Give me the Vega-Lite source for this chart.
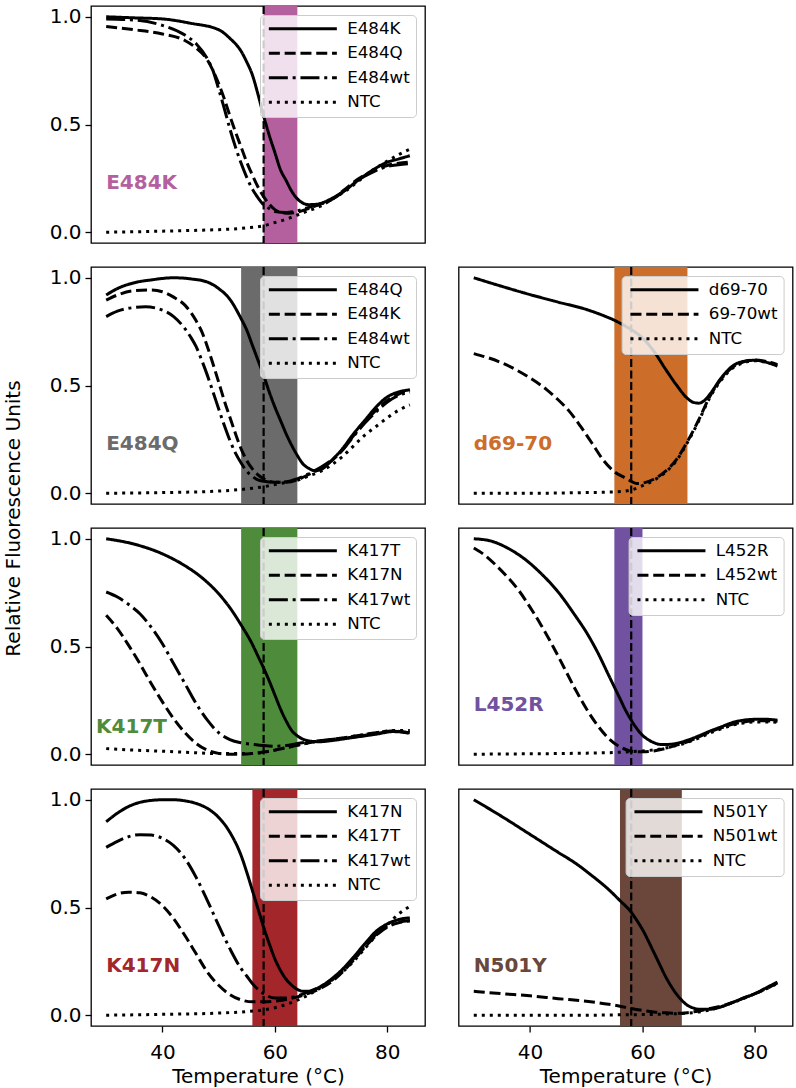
{
"$schema":"https://vega.github.io/schema/vega-lite/v6.json",
"padding":{"left":2,"top":4,"right":0,"bottom":4},
"datasets":{
"bands":[
{"p":"E484K","lo":58,"hi":64,"ref":58,"label":"E484K"},
{"p":"E484Q","lo":54,"hi":64,"ref":58,"label":"E484Q"},
{"p":"d69-70","lo":55,"hi":68,"ref":58,"label":"d69-70"},
{"p":"K417T","lo":54,"hi":64,"ref":58,"label":"K417T"},
{"p":"L452R","lo":55,"hi":60,"ref":58,"label":"L452R"},
{"p":"K417N","lo":56,"hi":64,"ref":58,"label":"K417N"},
{"p":"N501Y","lo":56,"hi":67,"ref":58,"label":"N501Y"}
],
"curves":[
{"p":"E484K","s":"E484K","t":30,"v":1.0},{"p":"E484K","s":"E484K","t":35,"v":0.995},{"p":"E484K","s":"E484K","t":40,"v":0.99},{"p":"E484K","s":"E484K","t":45,"v":0.97},{"p":"E484K","s":"E484K","t":50,"v":0.94},{"p":"E484K","s":"E484K","t":52,"v":0.9},{"p":"E484K","s":"E484K","t":54,"v":0.84},{"p":"E484K","s":"E484K","t":55,"v":0.79},{"p":"E484K","s":"E484K","t":56,"v":0.73},{"p":"E484K","s":"E484K","t":57,"v":0.64},{"p":"E484K","s":"E484K","t":58,"v":0.54},{"p":"E484K","s":"E484K","t":59,"v":0.45},{"p":"E484K","s":"E484K","t":60,"v":0.37},{"p":"E484K","s":"E484K","t":61,"v":0.29},{"p":"E484K","s":"E484K","t":62,"v":0.24},{"p":"E484K","s":"E484K","t":63,"v":0.19},{"p":"E484K","s":"E484K","t":64,"v":0.155},{"p":"E484K","s":"E484K","t":65,"v":0.135},{"p":"E484K","s":"E484K","t":66,"v":0.128},{"p":"E484K","s":"E484K","t":67.5,"v":0.13},{"p":"E484K","s":"E484K","t":70,"v":0.155},{"p":"E484K","s":"E484K","t":72.5,"v":0.195},{"p":"E484K","s":"E484K","t":75,"v":0.245},{"p":"E484K","s":"E484K","t":77.5,"v":0.29},{"p":"E484K","s":"E484K","t":80,"v":0.325},{"p":"E484K","s":"E484K","t":82,"v":0.34},{"p":"E484K","s":"E484K","t":84,"v":0.355},
{"p":"E484K","s":"E484Q","t":30,"v":0.955},{"p":"E484K","s":"E484Q","t":35,"v":0.94},{"p":"E484K","s":"E484Q","t":40,"v":0.92},{"p":"E484K","s":"E484Q","t":44,"v":0.89},{"p":"E484K","s":"E484Q","t":46,"v":0.855},{"p":"E484K","s":"E484Q","t":48,"v":0.8},{"p":"E484K","s":"E484Q","t":49,"v":0.75},{"p":"E484K","s":"E484Q","t":50,"v":0.69},{"p":"E484K","s":"E484Q","t":51,"v":0.62},{"p":"E484K","s":"E484Q","t":52,"v":0.54},{"p":"E484K","s":"E484Q","t":53,"v":0.465},{"p":"E484K","s":"E484Q","t":54,"v":0.395},{"p":"E484K","s":"E484Q","t":55,"v":0.325},{"p":"E484K","s":"E484Q","t":56,"v":0.265},{"p":"E484K","s":"E484Q","t":57,"v":0.21},{"p":"E484K","s":"E484Q","t":58,"v":0.165},{"p":"E484K","s":"E484Q","t":59,"v":0.13},{"p":"E484K","s":"E484Q","t":60,"v":0.105},{"p":"E484K","s":"E484Q","t":61,"v":0.093},{"p":"E484K","s":"E484Q","t":62.5,"v":0.088},{"p":"E484K","s":"E484Q","t":64,"v":0.093},{"p":"E484K","s":"E484Q","t":66,"v":0.11},{"p":"E484K","s":"E484Q","t":68,"v":0.13},{"p":"E484K","s":"E484Q","t":70,"v":0.15},{"p":"E484K","s":"E484Q","t":72.5,"v":0.2},{"p":"E484K","s":"E484Q","t":75,"v":0.25},{"p":"E484K","s":"E484Q","t":77.5,"v":0.285},{"p":"E484K","s":"E484Q","t":80,"v":0.31},{"p":"E484K","s":"E484Q","t":82,"v":0.32},{"p":"E484K","s":"E484Q","t":84,"v":0.325},
{"p":"E484K","s":"E484wt","t":30,"v":0.99},{"p":"E484K","s":"E484wt","t":35,"v":0.985},{"p":"E484K","s":"E484wt","t":40,"v":0.96},{"p":"E484K","s":"E484wt","t":44,"v":0.915},{"p":"E484K","s":"E484wt","t":46,"v":0.875},{"p":"E484K","s":"E484wt","t":48,"v":0.805},{"p":"E484K","s":"E484wt","t":49,"v":0.75},{"p":"E484K","s":"E484wt","t":50,"v":0.665},{"p":"E484K","s":"E484wt","t":51,"v":0.575},{"p":"E484K","s":"E484wt","t":52,"v":0.48},{"p":"E484K","s":"E484wt","t":53,"v":0.395},{"p":"E484K","s":"E484wt","t":54,"v":0.32},{"p":"E484K","s":"E484wt","t":55,"v":0.255},{"p":"E484K","s":"E484wt","t":56,"v":0.2},{"p":"E484K","s":"E484wt","t":57,"v":0.16},{"p":"E484K","s":"E484wt","t":58,"v":0.127},{"p":"E484K","s":"E484wt","t":59,"v":0.11},{"p":"E484K","s":"E484wt","t":60,"v":0.096},{"p":"E484K","s":"E484wt","t":62,"v":0.092},{"p":"E484K","s":"E484wt","t":64,"v":0.1},{"p":"E484K","s":"E484wt","t":66,"v":0.115},{"p":"E484K","s":"E484wt","t":68,"v":0.13},{"p":"E484K","s":"E484wt","t":70,"v":0.15},{"p":"E484K","s":"E484wt","t":72.5,"v":0.195},{"p":"E484K","s":"E484wt","t":75,"v":0.245},{"p":"E484K","s":"E484wt","t":77.5,"v":0.28},{"p":"E484K","s":"E484wt","t":80,"v":0.305},{"p":"E484K","s":"E484wt","t":82,"v":0.313},{"p":"E484K","s":"E484wt","t":84,"v":0.318},
{"p":"E484K","s":"NTC","t":30,"v":0.0},{"p":"E484K","s":"NTC","t":35,"v":0.002},{"p":"E484K","s":"NTC","t":40,"v":0.005},{"p":"E484K","s":"NTC","t":45,"v":0.008},{"p":"E484K","s":"NTC","t":50,"v":0.012},{"p":"E484K","s":"NTC","t":55,"v":0.02},{"p":"E484K","s":"NTC","t":58,"v":0.03},{"p":"E484K","s":"NTC","t":60,"v":0.045},{"p":"E484K","s":"NTC","t":62,"v":0.06},{"p":"E484K","s":"NTC","t":64,"v":0.08},{"p":"E484K","s":"NTC","t":66,"v":0.1},{"p":"E484K","s":"NTC","t":68,"v":0.12},{"p":"E484K","s":"NTC","t":70,"v":0.15},{"p":"E484K","s":"NTC","t":72.5,"v":0.19},{"p":"E484K","s":"NTC","t":75,"v":0.24},{"p":"E484K","s":"NTC","t":77.5,"v":0.29},{"p":"E484K","s":"NTC","t":80,"v":0.33},{"p":"E484K","s":"NTC","t":82,"v":0.36},{"p":"E484K","s":"NTC","t":84,"v":0.385},

{"p":"E484Q","s":"E484Q","t":30,"v":0.92},{"p":"E484Q","s":"E484Q","t":32,"v":0.95},{"p":"E484Q","s":"E484Q","t":35,"v":0.977},{"p":"E484Q","s":"E484Q","t":38,"v":0.99},{"p":"E484Q","s":"E484Q","t":42,"v":1.0},{"p":"E484Q","s":"E484Q","t":45,"v":0.995},{"p":"E484Q","s":"E484Q","t":48,"v":0.98},{"p":"E484Q","s":"E484Q","t":50,"v":0.95},{"p":"E484Q","s":"E484Q","t":52,"v":0.9},{"p":"E484Q","s":"E484Q","t":54,"v":0.81},{"p":"E484Q","s":"E484Q","t":55,"v":0.757},{"p":"E484Q","s":"E484Q","t":56,"v":0.687},{"p":"E484Q","s":"E484Q","t":57,"v":0.617},{"p":"E484Q","s":"E484Q","t":58,"v":0.547},{"p":"E484Q","s":"E484Q","t":59,"v":0.47},{"p":"E484Q","s":"E484Q","t":60,"v":0.4},{"p":"E484Q","s":"E484Q","t":61,"v":0.338},{"p":"E484Q","s":"E484Q","t":62,"v":0.276},{"p":"E484Q","s":"E484Q","t":63,"v":0.222},{"p":"E484Q","s":"E484Q","t":64,"v":0.175},{"p":"E484Q","s":"E484Q","t":65,"v":0.136},{"p":"E484Q","s":"E484Q","t":66,"v":0.116},{"p":"E484Q","s":"E484Q","t":67,"v":0.105},{"p":"E484Q","s":"E484Q","t":68,"v":0.108},{"p":"E484Q","s":"E484Q","t":70,"v":0.15},{"p":"E484Q","s":"E484Q","t":72,"v":0.206},{"p":"E484Q","s":"E484Q","t":74,"v":0.276},{"p":"E484Q","s":"E484Q","t":76,"v":0.338},{"p":"E484Q","s":"E484Q","t":78,"v":0.4},{"p":"E484Q","s":"E484Q","t":80,"v":0.447},{"p":"E484Q","s":"E484Q","t":82,"v":0.47},{"p":"E484Q","s":"E484Q","t":84,"v":0.48},
{"p":"E484Q","s":"E484K","t":30,"v":0.896},{"p":"E484Q","s":"E484K","t":32,"v":0.92},{"p":"E484Q","s":"E484K","t":35,"v":0.94},{"p":"E484Q","s":"E484K","t":38,"v":0.943},{"p":"E484Q","s":"E484K","t":40,"v":0.935},{"p":"E484Q","s":"E484K","t":42,"v":0.91},{"p":"E484Q","s":"E484K","t":44,"v":0.873},{"p":"E484Q","s":"E484K","t":46,"v":0.8},{"p":"E484Q","s":"E484K","t":47,"v":0.75},{"p":"E484Q","s":"E484K","t":48,"v":0.68},{"p":"E484Q","s":"E484K","t":49,"v":0.6},{"p":"E484Q","s":"E484K","t":50,"v":0.516},{"p":"E484Q","s":"E484K","t":51,"v":0.43},{"p":"E484Q","s":"E484K","t":52,"v":0.353},{"p":"E484Q","s":"E484K","t":53,"v":0.276},{"p":"E484Q","s":"E484K","t":54,"v":0.206},{"p":"E484Q","s":"E484K","t":55,"v":0.152},{"p":"E484Q","s":"E484K","t":56,"v":0.113},{"p":"E484Q","s":"E484K","t":57,"v":0.085},{"p":"E484Q","s":"E484K","t":58,"v":0.067},{"p":"E484Q","s":"E484K","t":60,"v":0.051},{"p":"E484Q","s":"E484K","t":62,"v":0.051},{"p":"E484Q","s":"E484K","t":64,"v":0.062},{"p":"E484Q","s":"E484K","t":66,"v":0.087},{"p":"E484Q","s":"E484K","t":68,"v":0.113},{"p":"E484Q","s":"E484K","t":70,"v":0.149},{"p":"E484Q","s":"E484K","t":72,"v":0.2},{"p":"E484Q","s":"E484K","t":74,"v":0.268},{"p":"E484Q","s":"E484K","t":76,"v":0.33},{"p":"E484Q","s":"E484K","t":78,"v":0.385},{"p":"E484Q","s":"E484K","t":80,"v":0.43},{"p":"E484Q","s":"E484K","t":82,"v":0.46},{"p":"E484Q","s":"E484K","t":84,"v":0.48},
{"p":"E484Q","s":"E484wt","t":30,"v":0.82},{"p":"E484Q","s":"E484wt","t":32,"v":0.845},{"p":"E484Q","s":"E484wt","t":35,"v":0.862},{"p":"E484Q","s":"E484wt","t":37,"v":0.865},{"p":"E484Q","s":"E484wt","t":40,"v":0.85},{"p":"E484Q","s":"E484wt","t":42,"v":0.82},{"p":"E484Q","s":"E484wt","t":44,"v":0.764},{"p":"E484Q","s":"E484wt","t":45,"v":0.726},{"p":"E484Q","s":"E484wt","t":46,"v":0.68},{"p":"E484Q","s":"E484wt","t":47,"v":0.617},{"p":"E484Q","s":"E484wt","t":48,"v":0.547},{"p":"E484Q","s":"E484wt","t":49,"v":0.47},{"p":"E484Q","s":"E484wt","t":50,"v":0.392},{"p":"E484Q","s":"E484wt","t":51,"v":0.315},{"p":"E484Q","s":"E484wt","t":52,"v":0.245},{"p":"E484Q","s":"E484wt","t":53,"v":0.186},{"p":"E484Q","s":"E484wt","t":54,"v":0.14},{"p":"E484Q","s":"E484wt","t":55,"v":0.102},{"p":"E484Q","s":"E484wt","t":56,"v":0.078},{"p":"E484Q","s":"E484wt","t":57,"v":0.062},{"p":"E484Q","s":"E484wt","t":58,"v":0.056},{"p":"E484Q","s":"E484wt","t":60,"v":0.051},{"p":"E484Q","s":"E484wt","t":62,"v":0.053},{"p":"E484Q","s":"E484wt","t":64,"v":0.067},{"p":"E484Q","s":"E484wt","t":66,"v":0.09},{"p":"E484Q","s":"E484wt","t":68,"v":0.118},{"p":"E484Q","s":"E484wt","t":70,"v":0.152},{"p":"E484Q","s":"E484wt","t":72,"v":0.2},{"p":"E484Q","s":"E484wt","t":74,"v":0.264},{"p":"E484Q","s":"E484wt","t":76,"v":0.326},{"p":"E484Q","s":"E484wt","t":78,"v":0.377},{"p":"E484Q","s":"E484wt","t":80,"v":0.423},{"p":"E484Q","s":"E484wt","t":82,"v":0.454},{"p":"E484Q","s":"E484wt","t":84,"v":0.47},
{"p":"E484Q","s":"NTC","t":30,"v":0.0},{"p":"E484Q","s":"NTC","t":40,"v":0.003},{"p":"E484Q","s":"NTC","t":50,"v":0.01},{"p":"E484Q","s":"NTC","t":55,"v":0.02},{"p":"E484Q","s":"NTC","t":58,"v":0.03},{"p":"E484Q","s":"NTC","t":60,"v":0.04},{"p":"E484Q","s":"NTC","t":62,"v":0.05},{"p":"E484Q","s":"NTC","t":64,"v":0.06},{"p":"E484Q","s":"NTC","t":66,"v":0.08},{"p":"E484Q","s":"NTC","t":68,"v":0.1},{"p":"E484Q","s":"NTC","t":70,"v":0.13},{"p":"E484Q","s":"NTC","t":72,"v":0.17},{"p":"E484Q","s":"NTC","t":74,"v":0.22},{"p":"E484Q","s":"NTC","t":76,"v":0.27},{"p":"E484Q","s":"NTC","t":78,"v":0.31},{"p":"E484Q","s":"NTC","t":80,"v":0.35},{"p":"E484Q","s":"NTC","t":82,"v":0.385},{"p":"E484Q","s":"NTC","t":84,"v":0.41},

{"p":"d69-70","s":"d69-70","t":30,"v":1.0},{"p":"d69-70","s":"d69-70","t":35,"v":0.96},{"p":"d69-70","s":"d69-70","t":40,"v":0.922},{"p":"d69-70","s":"d69-70","t":45,"v":0.887},{"p":"d69-70","s":"d69-70","t":50,"v":0.853},{"p":"d69-70","s":"d69-70","t":53,"v":0.825},{"p":"d69-70","s":"d69-70","t":55,"v":0.803},{"p":"d69-70","s":"d69-70","t":57,"v":0.775},{"p":"d69-70","s":"d69-70","t":58,"v":0.76},{"p":"d69-70","s":"d69-70","t":60,"v":0.72},{"p":"d69-70","s":"d69-70","t":62,"v":0.66},{"p":"d69-70","s":"d69-70","t":64,"v":0.58},{"p":"d69-70","s":"d69-70","t":66,"v":0.504},{"p":"d69-70","s":"d69-70","t":68,"v":0.44},{"p":"d69-70","s":"d69-70","t":69,"v":0.422},{"p":"d69-70","s":"d69-70","t":70,"v":0.418},{"p":"d69-70","s":"d69-70","t":71,"v":0.43},{"p":"d69-70","s":"d69-70","t":72,"v":0.46},{"p":"d69-70","s":"d69-70","t":74,"v":0.535},{"p":"d69-70","s":"d69-70","t":76,"v":0.59},{"p":"d69-70","s":"d69-70","t":78,"v":0.612},{"p":"d69-70","s":"d69-70","t":80,"v":0.617},{"p":"d69-70","s":"d69-70","t":82,"v":0.608},{"p":"d69-70","s":"d69-70","t":84,"v":0.59},
{"p":"d69-70","s":"69-70wt","t":30,"v":0.648},{"p":"d69-70","s":"69-70wt","t":35,"v":0.605},{"p":"d69-70","s":"69-70wt","t":40,"v":0.535},{"p":"d69-70","s":"69-70wt","t":43,"v":0.48},{"p":"d69-70","s":"69-70wt","t":45,"v":0.434},{"p":"d69-70","s":"69-70wt","t":47,"v":0.38},{"p":"d69-70","s":"69-70wt","t":49,"v":0.31},{"p":"d69-70","s":"69-70wt","t":51,"v":0.233},{"p":"d69-70","s":"69-70wt","t":53,"v":0.155},{"p":"d69-70","s":"69-70wt","t":55,"v":0.1},{"p":"d69-70","s":"69-70wt","t":57,"v":0.07},{"p":"d69-70","s":"69-70wt","t":58,"v":0.055},{"p":"d69-70","s":"69-70wt","t":59,"v":0.045},{"p":"d69-70","s":"69-70wt","t":60,"v":0.047},{"p":"d69-70","s":"69-70wt","t":62,"v":0.065},{"p":"d69-70","s":"69-70wt","t":64,"v":0.1},{"p":"d69-70","s":"69-70wt","t":66,"v":0.155},{"p":"d69-70","s":"69-70wt","t":68,"v":0.24},{"p":"d69-70","s":"69-70wt","t":70,"v":0.34},{"p":"d69-70","s":"69-70wt","t":72,"v":0.45},{"p":"d69-70","s":"69-70wt","t":74,"v":0.53},{"p":"d69-70","s":"69-70wt","t":76,"v":0.585},{"p":"d69-70","s":"69-70wt","t":78,"v":0.61},{"p":"d69-70","s":"69-70wt","t":80,"v":0.618},{"p":"d69-70","s":"69-70wt","t":82,"v":0.612},{"p":"d69-70","s":"69-70wt","t":84,"v":0.597},
{"p":"d69-70","s":"NTC","t":30,"v":0.0},{"p":"d69-70","s":"NTC","t":40,"v":0.0},{"p":"d69-70","s":"NTC","t":50,"v":0.003},{"p":"d69-70","s":"NTC","t":55,"v":0.006},{"p":"d69-70","s":"NTC","t":57,"v":0.01},{"p":"d69-70","s":"NTC","t":58,"v":0.015},{"p":"d69-70","s":"NTC","t":60,"v":0.035},{"p":"d69-70","s":"NTC","t":62,"v":0.06},{"p":"d69-70","s":"NTC","t":64,"v":0.095},{"p":"d69-70","s":"NTC","t":66,"v":0.15},{"p":"d69-70","s":"NTC","t":68,"v":0.235},{"p":"d69-70","s":"NTC","t":70,"v":0.335},{"p":"d69-70","s":"NTC","t":72,"v":0.445},{"p":"d69-70","s":"NTC","t":74,"v":0.525},{"p":"d69-70","s":"NTC","t":76,"v":0.58},{"p":"d69-70","s":"NTC","t":78,"v":0.605},{"p":"d69-70","s":"NTC","t":80,"v":0.615},{"p":"d69-70","s":"NTC","t":82,"v":0.608},{"p":"d69-70","s":"NTC","t":84,"v":0.595},

{"p":"K417T","s":"K417T","t":30,"v":1.0},{"p":"K417T","s":"K417T","t":35,"v":0.975},{"p":"K417T","s":"K417T","t":40,"v":0.93},{"p":"K417T","s":"K417T","t":44,"v":0.875},{"p":"K417T","s":"K417T","t":47,"v":0.82},{"p":"K417T","s":"K417T","t":50,"v":0.745},{"p":"K417T","s":"K417T","t":52,"v":0.68},{"p":"K417T","s":"K417T","t":54,"v":0.6},{"p":"K417T","s":"K417T","t":56,"v":0.51},{"p":"K417T","s":"K417T","t":57,"v":0.455},{"p":"K417T","s":"K417T","t":58,"v":0.4},{"p":"K417T","s":"K417T","t":59,"v":0.34},{"p":"K417T","s":"K417T","t":60,"v":0.275},{"p":"K417T","s":"K417T","t":61,"v":0.21},{"p":"K417T","s":"K417T","t":62,"v":0.155},{"p":"K417T","s":"K417T","t":63,"v":0.11},{"p":"K417T","s":"K417T","t":64,"v":0.085},{"p":"K417T","s":"K417T","t":65,"v":0.07},{"p":"K417T","s":"K417T","t":66,"v":0.062},{"p":"K417T","s":"K417T","t":68,"v":0.058},{"p":"K417T","s":"K417T","t":70,"v":0.063},{"p":"K417T","s":"K417T","t":74,"v":0.078},{"p":"K417T","s":"K417T","t":78,"v":0.093},{"p":"K417T","s":"K417T","t":81,"v":0.105},{"p":"K417T","s":"K417T","t":84,"v":0.1},
{"p":"K417T","s":"K417N","t":30,"v":0.645},{"p":"K417T","s":"K417N","t":32,"v":0.583},{"p":"K417T","s":"K417N","t":34,"v":0.505},{"p":"K417T","s":"K417N","t":36,"v":0.42},{"p":"K417T","s":"K417N","t":38,"v":0.328},{"p":"K417T","s":"K417N","t":40,"v":0.243},{"p":"K417T","s":"K417N","t":42,"v":0.165},{"p":"K417T","s":"K417N","t":44,"v":0.1},{"p":"K417T","s":"K417N","t":46,"v":0.05},{"p":"K417T","s":"K417N","t":48,"v":0.019},{"p":"K417T","s":"K417N","t":50,"v":0.004},{"p":"K417T","s":"K417N","t":52,"v":0.0},{"p":"K417T","s":"K417N","t":54,"v":0.0},{"p":"K417T","s":"K417N","t":56,"v":0.003},{"p":"K417T","s":"K417N","t":58,"v":0.01},{"p":"K417T","s":"K417N","t":60,"v":0.019},{"p":"K417T","s":"K417N","t":62,"v":0.03},{"p":"K417T","s":"K417N","t":64,"v":0.042},{"p":"K417T","s":"K417N","t":66,"v":0.053},{"p":"K417T","s":"K417N","t":70,"v":0.068},{"p":"K417T","s":"K417N","t":74,"v":0.083},{"p":"K417T","s":"K417N","t":78,"v":0.1},{"p":"K417T","s":"K417N","t":81,"v":0.108},{"p":"K417T","s":"K417N","t":84,"v":0.096},
{"p":"K417T","s":"K417wt","t":30,"v":0.753},{"p":"K417T","s":"K417wt","t":32,"v":0.73},{"p":"K417T","s":"K417wt","t":34,"v":0.695},{"p":"K417T","s":"K417wt","t":36,"v":0.652},{"p":"K417T","s":"K417wt","t":38,"v":0.59},{"p":"K417T","s":"K417wt","t":40,"v":0.513},{"p":"K417T","s":"K417wt","t":42,"v":0.42},{"p":"K417T","s":"K417wt","t":44,"v":0.328},{"p":"K417T","s":"K417wt","t":46,"v":0.235},{"p":"K417T","s":"K417wt","t":48,"v":0.158},{"p":"K417T","s":"K417wt","t":50,"v":0.1},{"p":"K417T","s":"K417wt","t":52,"v":0.068},{"p":"K417T","s":"K417wt","t":54,"v":0.053},{"p":"K417T","s":"K417wt","t":56,"v":0.046},{"p":"K417T","s":"K417wt","t":58,"v":0.04},{"p":"K417T","s":"K417wt","t":60,"v":0.037},{"p":"K417T","s":"K417wt","t":62,"v":0.04},{"p":"K417T","s":"K417wt","t":64,"v":0.05},{"p":"K417T","s":"K417wt","t":66,"v":0.057},{"p":"K417T","s":"K417wt","t":70,"v":0.068},{"p":"K417T","s":"K417wt","t":74,"v":0.08},{"p":"K417T","s":"K417wt","t":78,"v":0.096},{"p":"K417T","s":"K417wt","t":81,"v":0.107},{"p":"K417T","s":"K417wt","t":84,"v":0.099},
{"p":"K417T","s":"NTC","t":30,"v":0.026},{"p":"K417T","s":"NTC","t":35,"v":0.019},{"p":"K417T","s":"NTC","t":40,"v":0.014},{"p":"K417T","s":"NTC","t":45,"v":0.008},{"p":"K417T","s":"NTC","t":50,"v":0.003},{"p":"K417T","s":"NTC","t":55,"v":0.003},{"p":"K417T","s":"NTC","t":58,"v":0.009},{"p":"K417T","s":"NTC","t":60,"v":0.019},{"p":"K417T","s":"NTC","t":62,"v":0.031},{"p":"K417T","s":"NTC","t":64,"v":0.042},{"p":"K417T","s":"NTC","t":66,"v":0.053},{"p":"K417T","s":"NTC","t":70,"v":0.068},{"p":"K417T","s":"NTC","t":74,"v":0.083},{"p":"K417T","s":"NTC","t":78,"v":0.1},{"p":"K417T","s":"NTC","t":81,"v":0.11},{"p":"K417T","s":"NTC","t":84,"v":0.11},

{"p":"L452R","s":"L452R","t":30,"v":1.0},{"p":"L452R","s":"L452R","t":33,"v":0.99},{"p":"L452R","s":"L452R","t":36,"v":0.957},{"p":"L452R","s":"L452R","t":39,"v":0.907},{"p":"L452R","s":"L452R","t":42,"v":0.838},{"p":"L452R","s":"L452R","t":45,"v":0.753},{"p":"L452R","s":"L452R","t":48,"v":0.645},{"p":"L452R","s":"L452R","t":50,"v":0.567},{"p":"L452R","s":"L452R","t":52,"v":0.474},{"p":"L452R","s":"L452R","t":54,"v":0.366},{"p":"L452R","s":"L452R","t":55,"v":0.312},{"p":"L452R","s":"L452R","t":56,"v":0.258},{"p":"L452R","s":"L452R","t":57,"v":0.204},{"p":"L452R","s":"L452R","t":58,"v":0.158},{"p":"L452R","s":"L452R","t":59,"v":0.119},{"p":"L452R","s":"L452R","t":60,"v":0.088},{"p":"L452R","s":"L452R","t":61,"v":0.068},{"p":"L452R","s":"L452R","t":62,"v":0.054},{"p":"L452R","s":"L452R","t":63,"v":0.046},{"p":"L452R","s":"L452R","t":64,"v":0.045},{"p":"L452R","s":"L452R","t":66,"v":0.05},{"p":"L452R","s":"L452R","t":68,"v":0.065},{"p":"L452R","s":"L452R","t":70,"v":0.085},{"p":"L452R","s":"L452R","t":72,"v":0.107},{"p":"L452R","s":"L452R","t":74,"v":0.127},{"p":"L452R","s":"L452R","t":76,"v":0.147},{"p":"L452R","s":"L452R","t":78,"v":0.158},{"p":"L452R","s":"L452R","t":80,"v":0.162},{"p":"L452R","s":"L452R","t":82,"v":0.162},{"p":"L452R","s":"L452R","t":84,"v":0.158},
{"p":"L452R","s":"L452wt","t":30,"v":0.957},{"p":"L452R","s":"L452wt","t":32,"v":0.923},{"p":"L452R","s":"L452wt","t":34,"v":0.876},{"p":"L452R","s":"L452wt","t":36,"v":0.822},{"p":"L452R","s":"L452wt","t":38,"v":0.76},{"p":"L452R","s":"L452wt","t":40,"v":0.683},{"p":"L452R","s":"L452wt","t":42,"v":0.598},{"p":"L452R","s":"L452wt","t":44,"v":0.505},{"p":"L452R","s":"L452wt","t":46,"v":0.405},{"p":"L452R","s":"L452wt","t":48,"v":0.304},{"p":"L452R","s":"L452wt","t":50,"v":0.212},{"p":"L452R","s":"L452wt","t":52,"v":0.134},{"p":"L452R","s":"L452wt","t":54,"v":0.073},{"p":"L452R","s":"L452wt","t":56,"v":0.034},{"p":"L452R","s":"L452wt","t":57,"v":0.022},{"p":"L452R","s":"L452wt","t":58,"v":0.014},{"p":"L452R","s":"L452wt","t":60,"v":0.011},{"p":"L452R","s":"L452wt","t":62,"v":0.015},{"p":"L452R","s":"L452wt","t":64,"v":0.026},{"p":"L452R","s":"L452wt","t":66,"v":0.042},{"p":"L452R","s":"L452wt","t":68,"v":0.057},{"p":"L452R","s":"L452wt","t":70,"v":0.08},{"p":"L452R","s":"L452wt","t":72,"v":0.104},{"p":"L452R","s":"L452wt","t":74,"v":0.122},{"p":"L452R","s":"L452wt","t":76,"v":0.139},{"p":"L452R","s":"L452wt","t":78,"v":0.15},{"p":"L452R","s":"L452wt","t":80,"v":0.155},{"p":"L452R","s":"L452wt","t":82,"v":0.155},{"p":"L452R","s":"L452wt","t":84,"v":0.153},
{"p":"L452R","s":"NTC","t":30,"v":0.0},{"p":"L452R","s":"NTC","t":40,"v":0.002},{"p":"L452R","s":"NTC","t":50,"v":0.005},{"p":"L452R","s":"NTC","t":55,"v":0.008},{"p":"L452R","s":"NTC","t":58,"v":0.012},{"p":"L452R","s":"NTC","t":60,"v":0.015},{"p":"L452R","s":"NTC","t":62,"v":0.02},{"p":"L452R","s":"NTC","t":64,"v":0.028},{"p":"L452R","s":"NTC","t":66,"v":0.04},{"p":"L452R","s":"NTC","t":68,"v":0.055},{"p":"L452R","s":"NTC","t":70,"v":0.075},{"p":"L452R","s":"NTC","t":72,"v":0.098},{"p":"L452R","s":"NTC","t":74,"v":0.118},{"p":"L452R","s":"NTC","t":76,"v":0.135},{"p":"L452R","s":"NTC","t":78,"v":0.145},{"p":"L452R","s":"NTC","t":80,"v":0.15},{"p":"L452R","s":"NTC","t":82,"v":0.15},{"p":"L452R","s":"NTC","t":84,"v":0.148},

{"p":"K417N","s":"K417N","t":30,"v":0.898},{"p":"K417N","s":"K417N","t":32,"v":0.938},{"p":"K417N","s":"K417N","t":34,"v":0.969},{"p":"K417N","s":"K417N","t":36,"v":0.988},{"p":"K417N","s":"K417N","t":38,"v":0.997},{"p":"K417N","s":"K417N","t":40,"v":1.0},{"p":"K417N","s":"K417N","t":42,"v":1.0},{"p":"K417N","s":"K417N","t":44,"v":0.995},{"p":"K417N","s":"K417N","t":46,"v":0.983},{"p":"K417N","s":"K417N","t":48,"v":0.96},{"p":"K417N","s":"K417N","t":50,"v":0.918},{"p":"K417N","s":"K417N","t":52,"v":0.849},{"p":"K417N","s":"K417N","t":54,"v":0.741},{"p":"K417N","s":"K417N","t":55,"v":0.664},{"p":"K417N","s":"K417N","t":56,"v":0.579},{"p":"K417N","s":"K417N","t":57,"v":0.494},{"p":"K417N","s":"K417N","t":58,"v":0.409},{"p":"K417N","s":"K417N","t":59,"v":0.332},{"p":"K417N","s":"K417N","t":60,"v":0.262},{"p":"K417N","s":"K417N","t":61,"v":0.208},{"p":"K417N","s":"K417N","t":62,"v":0.167},{"p":"K417N","s":"K417N","t":63,"v":0.139},{"p":"K417N","s":"K417N","t":64,"v":0.12},{"p":"K417N","s":"K417N","t":65,"v":0.111},{"p":"K417N","s":"K417N","t":66,"v":0.111},{"p":"K417N","s":"K417N","t":68,"v":0.131},{"p":"K417N","s":"K417N","t":70,"v":0.167},{"p":"K417N","s":"K417N","t":72,"v":0.213},{"p":"K417N","s":"K417N","t":74,"v":0.27},{"p":"K417N","s":"K417N","t":76,"v":0.332},{"p":"K417N","s":"K417N","t":78,"v":0.389},{"p":"K417N","s":"K417N","t":80,"v":0.424},{"p":"K417N","s":"K417N","t":82,"v":0.444},{"p":"K417N","s":"K417N","t":84,"v":0.452},
{"p":"K417N","s":"K417T","t":30,"v":0.54},{"p":"K417N","s":"K417T","t":32,"v":0.563},{"p":"K417N","s":"K417T","t":34,"v":0.571},{"p":"K417N","s":"K417T","t":36,"v":0.568},{"p":"K417N","s":"K417T","t":38,"v":0.548},{"p":"K417N","s":"K417T","t":40,"v":0.509},{"p":"K417N","s":"K417T","t":42,"v":0.448},{"p":"K417N","s":"K417T","t":44,"v":0.37},{"p":"K417N","s":"K417T","t":46,"v":0.285},{"p":"K417N","s":"K417T","t":48,"v":0.2},{"p":"K417N","s":"K417T","t":50,"v":0.139},{"p":"K417N","s":"K417T","t":52,"v":0.096},{"p":"K417N","s":"K417T","t":54,"v":0.071},{"p":"K417N","s":"K417T","t":56,"v":0.062},{"p":"K417N","s":"K417T","t":58,"v":0.062},{"p":"K417N","s":"K417T","t":60,"v":0.065},{"p":"K417N","s":"K417T","t":62,"v":0.073},{"p":"K417N","s":"K417T","t":64,"v":0.085},{"p":"K417N","s":"K417T","t":66,"v":0.102},{"p":"K417N","s":"K417T","t":68,"v":0.123},{"p":"K417N","s":"K417T","t":70,"v":0.154},{"p":"K417N","s":"K417T","t":72,"v":0.2},{"p":"K417N","s":"K417T","t":74,"v":0.255},{"p":"K417N","s":"K417T","t":76,"v":0.316},{"p":"K417N","s":"K417T","t":78,"v":0.37},{"p":"K417N","s":"K417T","t":80,"v":0.409},{"p":"K417N","s":"K417T","t":82,"v":0.429},{"p":"K417N","s":"K417T","t":84,"v":0.437},
{"p":"K417N","s":"K417wt","t":30,"v":0.779},{"p":"K417N","s":"K417wt","t":32,"v":0.807},{"p":"K417N","s":"K417wt","t":34,"v":0.829},{"p":"K417N","s":"K417wt","t":36,"v":0.838},{"p":"K417N","s":"K417wt","t":38,"v":0.836},{"p":"K417N","s":"K417wt","t":40,"v":0.821},{"p":"K417N","s":"K417wt","t":42,"v":0.787},{"p":"K417N","s":"K417wt","t":44,"v":0.728},{"p":"K417N","s":"K417wt","t":46,"v":0.64},{"p":"K417N","s":"K417wt","t":48,"v":0.532},{"p":"K417N","s":"K417wt","t":50,"v":0.417},{"p":"K417N","s":"K417wt","t":52,"v":0.309},{"p":"K417N","s":"K417wt","t":54,"v":0.216},{"p":"K417N","s":"K417wt","t":55,"v":0.182},{"p":"K417N","s":"K417wt","t":56,"v":0.147},{"p":"K417N","s":"K417wt","t":57,"v":0.12},{"p":"K417N","s":"K417wt","t":58,"v":0.1},{"p":"K417N","s":"K417wt","t":60,"v":0.08},{"p":"K417N","s":"K417wt","t":62,"v":0.08},{"p":"K417N","s":"K417wt","t":64,"v":0.09},{"p":"K417N","s":"K417wt","t":66,"v":0.108},{"p":"K417N","s":"K417wt","t":68,"v":0.131},{"p":"K417N","s":"K417wt","t":70,"v":0.162},{"p":"K417N","s":"K417wt","t":72,"v":0.205},{"p":"K417N","s":"K417wt","t":74,"v":0.262},{"p":"K417N","s":"K417wt","t":76,"v":0.321},{"p":"K417N","s":"K417wt","t":78,"v":0.375},{"p":"K417N","s":"K417wt","t":80,"v":0.414},{"p":"K417N","s":"K417wt","t":82,"v":0.432},{"p":"K417N","s":"K417wt","t":84,"v":0.44},
{"p":"K417N","s":"NTC","t":30,"v":0.0},{"p":"K417N","s":"NTC","t":40,"v":0.004},{"p":"K417N","s":"NTC","t":50,"v":0.01},{"p":"K417N","s":"NTC","t":55,"v":0.017},{"p":"K417N","s":"NTC","t":58,"v":0.025},{"p":"K417N","s":"NTC","t":60,"v":0.035},{"p":"K417N","s":"NTC","t":62,"v":0.05},{"p":"K417N","s":"NTC","t":64,"v":0.07},{"p":"K417N","s":"NTC","t":66,"v":0.095},{"p":"K417N","s":"NTC","t":68,"v":0.125},{"p":"K417N","s":"NTC","t":70,"v":0.16},{"p":"K417N","s":"NTC","t":72,"v":0.2},{"p":"K417N","s":"NTC","t":74,"v":0.25},{"p":"K417N","s":"NTC","t":76,"v":0.31},{"p":"K417N","s":"NTC","t":78,"v":0.37},{"p":"K417N","s":"NTC","t":80,"v":0.42},{"p":"K417N","s":"NTC","t":82,"v":0.47},{"p":"K417N","s":"NTC","t":84,"v":0.505},

{"p":"N501Y","s":"N501Y","t":30,"v":1.0},{"p":"N501Y","s":"N501Y","t":33,"v":0.954},{"p":"N501Y","s":"N501Y","t":36,"v":0.906},{"p":"N501Y","s":"N501Y","t":39,"v":0.856},{"p":"N501Y","s":"N501Y","t":42,"v":0.806},{"p":"N501Y","s":"N501Y","t":45,"v":0.756},{"p":"N501Y","s":"N501Y","t":48,"v":0.707},{"p":"N501Y","s":"N501Y","t":51,"v":0.648},{"p":"N501Y","s":"N501Y","t":54,"v":0.583},{"p":"N501Y","s":"N501Y","t":56,"v":0.532},{"p":"N501Y","s":"N501Y","t":58,"v":0.478},{"p":"N501Y","s":"N501Y","t":59,"v":0.44},{"p":"N501Y","s":"N501Y","t":60,"v":0.398},{"p":"N501Y","s":"N501Y","t":61,"v":0.347},{"p":"N501Y","s":"N501Y","t":62,"v":0.293},{"p":"N501Y","s":"N501Y","t":63,"v":0.239},{"p":"N501Y","s":"N501Y","t":64,"v":0.185},{"p":"N501Y","s":"N501Y","t":65,"v":0.139},{"p":"N501Y","s":"N501Y","t":66,"v":0.1},{"p":"N501Y","s":"N501Y","t":67,"v":0.069},{"p":"N501Y","s":"N501Y","t":68,"v":0.046},{"p":"N501Y","s":"N501Y","t":69,"v":0.034},{"p":"N501Y","s":"N501Y","t":70,"v":0.028},{"p":"N501Y","s":"N501Y","t":72,"v":0.028},{"p":"N501Y","s":"N501Y","t":74,"v":0.039},{"p":"N501Y","s":"N501Y","t":76,"v":0.059},{"p":"N501Y","s":"N501Y","t":78,"v":0.08},{"p":"N501Y","s":"N501Y","t":80,"v":0.1},{"p":"N501Y","s":"N501Y","t":82,"v":0.127},{"p":"N501Y","s":"N501Y","t":84,"v":0.154},
{"p":"N501Y","s":"N501wt","t":30,"v":0.111},{"p":"N501Y","s":"N501wt","t":35,"v":0.1},{"p":"N501Y","s":"N501wt","t":40,"v":0.09},{"p":"N501Y","s":"N501wt","t":45,"v":0.077},{"p":"N501Y","s":"N501wt","t":50,"v":0.065},{"p":"N501Y","s":"N501wt","t":54,"v":0.051},{"p":"N501Y","s":"N501wt","t":56,"v":0.042},{"p":"N501Y","s":"N501wt","t":58,"v":0.031},{"p":"N501Y","s":"N501wt","t":60,"v":0.022},{"p":"N501Y","s":"N501wt","t":62,"v":0.015},{"p":"N501Y","s":"N501wt","t":64,"v":0.011},{"p":"N501Y","s":"N501wt","t":66,"v":0.009},{"p":"N501Y","s":"N501wt","t":68,"v":0.012},{"p":"N501Y","s":"N501wt","t":70,"v":0.02},{"p":"N501Y","s":"N501wt","t":72,"v":0.031},{"p":"N501Y","s":"N501wt","t":74,"v":0.042},{"p":"N501Y","s":"N501wt","t":76,"v":0.059},{"p":"N501Y","s":"N501wt","t":78,"v":0.08},{"p":"N501Y","s":"N501wt","t":80,"v":0.1},{"p":"N501Y","s":"N501wt","t":82,"v":0.123},{"p":"N501Y","s":"N501wt","t":84,"v":0.15},
{"p":"N501Y","s":"NTC","t":30,"v":0.0},{"p":"N501Y","s":"NTC","t":40,"v":0.0},{"p":"N501Y","s":"NTC","t":50,"v":0.0},{"p":"N501Y","s":"NTC","t":56,"v":0.002},{"p":"N501Y","s":"NTC","t":60,"v":0.003},{"p":"N501Y","s":"NTC","t":64,"v":0.005},{"p":"N501Y","s":"NTC","t":68,"v":0.01},{"p":"N501Y","s":"NTC","t":70,"v":0.015},{"p":"N501Y","s":"NTC","t":72,"v":0.025},{"p":"N501Y","s":"NTC","t":74,"v":0.04},{"p":"N501Y","s":"NTC","t":76,"v":0.058},{"p":"N501Y","s":"NTC","t":78,"v":0.078},{"p":"N501Y","s":"NTC","t":80,"v":0.1},{"p":"N501Y","s":"NTC","t":82,"v":0.122},{"p":"N501Y","s":"NTC","t":84,"v":0.148}
]
},
"columns":2,
"spacing":{"row":24,"column":33.6},
"bounds":"flush",
"resolve":{"scale":{"strokeDash":"independent"},"legend":{"strokeDash":"independent"}},
"concat":[
{"width":334,"height":237,"layer":[
 {"data":{"name":"bands"},"transform":[{"filter":"datum.p==='E484K'"}],"mark":{"type":"rect","color":"#b4609f"},"encoding":{"x":{"field":"lo","type":"quantitative","scale":{"domain":[27.3,86.7],"nice":false,"zero":false},"axis":null},"x2":{"field":"hi"}}},
 {"data":{"name":"bands"},"transform":[{"filter":"datum.p==='E484K'"}],"mark":{"type":"rule","color":"black","strokeWidth":2.2,"strokeDash":[8,3.5]},"encoding":{"x":{"field":"ref","type":"quantitative","scale":{"domain":[27.3,86.7],"nice":false,"zero":false},"axis":null}}},
 {"data":{"name":"curves"},"transform":[{"filter":"datum.p==='E484K'"}],"mark":{"type":"line","color":"black","strokeWidth":3,"interpolate":"monotone","strokeCap":"butt"},"encoding":{"x":{"field":"t","type":"quantitative","scale":{"domain":[27.3,86.7],"nice":false,"zero":false},"axis":null},"y":{"field":"v","type":"quantitative","scale":{"domain":[-0.05,1.05],"nice":false,"zero":false},"axis":{"values":[0,0.5,1],"format":".1f","labelPadding":4,"title":null}},"strokeDash":{"field":"s","type":"nominal","scale":{"domain":["E484K","E484Q","E484wt","NTC"],"range":[[1,0],[11,4.8],[19,4.8,3,4.8],[3,5]]},"legend":{"title":null,"symbolType":"M-1,0H12.6"}}}},
 {"data":{"name":"bands"},"transform":[{"filter":"datum.p==='E484K'"}],"mark":{"type":"text","align":"left","baseline":"alphabetic","fontWeight":"bold","fontSize":20,"color":"#b4609f"},"encoding":{"x":{"datum":30,"scale":{"domain":[27.3,86.7],"nice":false,"zero":false},"axis":null},"y":{"datum":0.2,"scale":{"domain":[-0.05,1.05],"nice":false,"zero":false},"axis":{"values":[0,0.5,1],"format":".1f","labelPadding":4,"title":null}},"text":{"field":"label"}}}
]},
{"width":334,"height":237,"data":{"values":[]},"mark":{"type":"point"},"encoding":{},"view":{"stroke":null}},
{"width":334,"height":237,"layer":[
 {"data":{"name":"bands"},"transform":[{"filter":"datum.p==='E484Q'"}],"mark":{"type":"rect","color":"#6b6b6b"},"encoding":{"x":{"field":"lo","type":"quantitative","scale":{"domain":[27.3,86.7],"nice":false,"zero":false},"axis":null},"x2":{"field":"hi"}}},
 {"data":{"name":"bands"},"transform":[{"filter":"datum.p==='E484Q'"}],"mark":{"type":"rule","color":"black","strokeWidth":2.2,"strokeDash":[8,3.5]},"encoding":{"x":{"field":"ref","type":"quantitative","scale":{"domain":[27.3,86.7],"nice":false,"zero":false},"axis":null}}},
 {"data":{"name":"curves"},"transform":[{"filter":"datum.p==='E484Q'"}],"mark":{"type":"line","color":"black","strokeWidth":3,"interpolate":"monotone","strokeCap":"butt"},"encoding":{"x":{"field":"t","type":"quantitative","scale":{"domain":[27.3,86.7],"nice":false,"zero":false},"axis":null},"y":{"field":"v","type":"quantitative","scale":{"domain":[-0.05,1.05],"nice":false,"zero":false},"axis":{"values":[0,0.5,1],"format":".1f","labelPadding":4,"title":null}},"strokeDash":{"field":"s","type":"nominal","scale":{"domain":["E484Q","E484K","E484wt","NTC"],"range":[[1,0],[11,4.8],[19,4.8,3,4.8],[3,5]]},"legend":{"title":null,"symbolType":"M-1,0H12.6"}}}},
 {"data":{"name":"bands"},"transform":[{"filter":"datum.p==='E484Q'"}],"mark":{"type":"text","align":"left","baseline":"alphabetic","fontWeight":"bold","fontSize":20,"color":"#6b6b6b"},"encoding":{"x":{"datum":30,"scale":{"domain":[27.3,86.7],"nice":false,"zero":false},"axis":null},"y":{"datum":0.2,"scale":{"domain":[-0.05,1.05],"nice":false,"zero":false},"axis":{"values":[0,0.5,1],"format":".1f","labelPadding":4,"title":null}},"text":{"field":"label"}}}
]},
{"width":334,"height":237,"layer":[
 {"data":{"name":"bands"},"transform":[{"filter":"datum.p==='d69-70'"}],"mark":{"type":"rect","color":"#cc6d2a"},"encoding":{"x":{"field":"lo","type":"quantitative","scale":{"domain":[27.3,86.7],"nice":false,"zero":false},"axis":null},"x2":{"field":"hi"}}},
 {"data":{"name":"bands"},"transform":[{"filter":"datum.p==='d69-70'"}],"mark":{"type":"rule","color":"black","strokeWidth":2.2,"strokeDash":[8,3.5]},"encoding":{"x":{"field":"ref","type":"quantitative","scale":{"domain":[27.3,86.7],"nice":false,"zero":false},"axis":null}}},
 {"data":{"name":"curves"},"transform":[{"filter":"datum.p==='d69-70'"}],"mark":{"type":"line","color":"black","strokeWidth":3,"interpolate":"monotone","strokeCap":"butt"},"encoding":{"x":{"field":"t","type":"quantitative","scale":{"domain":[27.3,86.7],"nice":false,"zero":false},"axis":null},"y":{"field":"v","type":"quantitative","scale":{"domain":[-0.05,1.05],"nice":false,"zero":false},"axis":null},"strokeDash":{"field":"s","type":"nominal","scale":{"domain":["d69-70","69-70wt","NTC"],"range":[[1,0],[11,4.8],[3,5]]},"legend":{"title":null,"symbolType":"M-1,0H12.6"}}}},
 {"data":{"name":"bands"},"transform":[{"filter":"datum.p==='d69-70'"}],"mark":{"type":"text","align":"left","baseline":"alphabetic","fontWeight":"bold","fontSize":20,"color":"#cc6d2a"},"encoding":{"x":{"datum":30,"scale":{"domain":[27.3,86.7],"nice":false,"zero":false},"axis":null},"y":{"datum":0.2,"scale":{"domain":[-0.05,1.05],"nice":false,"zero":false},"axis":null},"text":{"field":"label"}}}
]},
{"width":334,"height":237,"layer":[
 {"data":{"name":"bands"},"transform":[{"filter":"datum.p==='K417T'"}],"mark":{"type":"rect","color":"#4e8c3c"},"encoding":{"x":{"field":"lo","type":"quantitative","scale":{"domain":[27.3,86.7],"nice":false,"zero":false},"axis":null},"x2":{"field":"hi"}}},
 {"data":{"name":"bands"},"transform":[{"filter":"datum.p==='K417T'"}],"mark":{"type":"rule","color":"black","strokeWidth":2.2,"strokeDash":[8,3.5]},"encoding":{"x":{"field":"ref","type":"quantitative","scale":{"domain":[27.3,86.7],"nice":false,"zero":false},"axis":null}}},
 {"data":{"name":"curves"},"transform":[{"filter":"datum.p==='K417T'"}],"mark":{"type":"line","color":"black","strokeWidth":3,"interpolate":"monotone","strokeCap":"butt"},"encoding":{"x":{"field":"t","type":"quantitative","scale":{"domain":[27.3,86.7],"nice":false,"zero":false},"axis":null},"y":{"field":"v","type":"quantitative","scale":{"domain":[-0.05,1.05],"nice":false,"zero":false},"axis":{"values":[0,0.5,1],"format":".1f","labelPadding":4,"title":"Relative Fluorescence Units","titleX":-72,"titleY":-10,"titleAngle":-90,"titleAlign":"center","titleBaseline":"alphabetic"}},"strokeDash":{"field":"s","type":"nominal","scale":{"domain":["K417T","K417N","K417wt","NTC"],"range":[[1,0],[11,4.8],[19,4.8,3,4.8],[3,5]]},"legend":{"title":null,"symbolType":"M-1,0H12.6"}}}},
 {"data":{"name":"bands"},"transform":[{"filter":"datum.p==='K417T'"}],"mark":{"type":"text","align":"left","baseline":"alphabetic","fontWeight":"bold","fontSize":20,"color":"#4e8c3c"},"encoding":{"x":{"datum":28.2,"scale":{"domain":[27.3,86.7],"nice":false,"zero":false},"axis":null},"y":{"datum":0.1,"scale":{"domain":[-0.05,1.05],"nice":false,"zero":false},"axis":{"values":[0,0.5,1],"format":".1f","labelPadding":4,"title":"Relative Fluorescence Units","titleX":-72,"titleY":-10,"titleAngle":-90,"titleAlign":"center","titleBaseline":"alphabetic"}},"text":{"field":"label"}}}
]},
{"width":334,"height":237,"layer":[
 {"data":{"name":"bands"},"transform":[{"filter":"datum.p==='L452R'"}],"mark":{"type":"rect","color":"#7152a0"},"encoding":{"x":{"field":"lo","type":"quantitative","scale":{"domain":[27.3,86.7],"nice":false,"zero":false},"axis":null},"x2":{"field":"hi"}}},
 {"data":{"name":"bands"},"transform":[{"filter":"datum.p==='L452R'"}],"mark":{"type":"rule","color":"black","strokeWidth":2.2,"strokeDash":[8,3.5]},"encoding":{"x":{"field":"ref","type":"quantitative","scale":{"domain":[27.3,86.7],"nice":false,"zero":false},"axis":null}}},
 {"data":{"name":"curves"},"transform":[{"filter":"datum.p==='L452R'"}],"mark":{"type":"line","color":"black","strokeWidth":3,"interpolate":"monotone","strokeCap":"butt"},"encoding":{"x":{"field":"t","type":"quantitative","scale":{"domain":[27.3,86.7],"nice":false,"zero":false},"axis":null},"y":{"field":"v","type":"quantitative","scale":{"domain":[-0.05,1.05],"nice":false,"zero":false},"axis":null},"strokeDash":{"field":"s","type":"nominal","scale":{"domain":["L452R","L452wt","NTC"],"range":[[1,0],[11,4.8],[3,5]]},"legend":{"title":null,"symbolType":"M-1,0H12.6"}}}},
 {"data":{"name":"bands"},"transform":[{"filter":"datum.p==='L452R'"}],"mark":{"type":"text","align":"left","baseline":"alphabetic","fontWeight":"bold","fontSize":20,"color":"#7152a0"},"encoding":{"x":{"datum":30,"scale":{"domain":[27.3,86.7],"nice":false,"zero":false},"axis":null},"y":{"datum":0.2,"scale":{"domain":[-0.05,1.05],"nice":false,"zero":false},"axis":null},"text":{"field":"label"}}}
]},
{"width":334,"height":237,"layer":[
 {"data":{"name":"bands"},"transform":[{"filter":"datum.p==='K417N'"}],"mark":{"type":"rect","color":"#a3262a"},"encoding":{"x":{"field":"lo","type":"quantitative","scale":{"domain":[27.3,86.7],"nice":false,"zero":false},"axis":{"values":[40,60,80],"format":"d","labelPadding":10,"title":"Temperature (°C)","titleY":56,"titleBaseline":"alphabetic"}},"x2":{"field":"hi"}}},
 {"data":{"name":"bands"},"transform":[{"filter":"datum.p==='K417N'"}],"mark":{"type":"rule","color":"black","strokeWidth":2.2,"strokeDash":[8,3.5]},"encoding":{"x":{"field":"ref","type":"quantitative","scale":{"domain":[27.3,86.7],"nice":false,"zero":false},"axis":{"values":[40,60,80],"format":"d","labelPadding":10,"title":"Temperature (°C)","titleY":56,"titleBaseline":"alphabetic"}}}},
 {"data":{"name":"curves"},"transform":[{"filter":"datum.p==='K417N'"}],"mark":{"type":"line","color":"black","strokeWidth":3,"interpolate":"monotone","strokeCap":"butt"},"encoding":{"x":{"field":"t","type":"quantitative","scale":{"domain":[27.3,86.7],"nice":false,"zero":false},"axis":{"values":[40,60,80],"format":"d","labelPadding":10,"title":"Temperature (°C)","titleY":56,"titleBaseline":"alphabetic"}},"y":{"field":"v","type":"quantitative","scale":{"domain":[-0.05,1.05],"nice":false,"zero":false},"axis":{"values":[0,0.5,1],"format":".1f","labelPadding":4,"title":null}},"strokeDash":{"field":"s","type":"nominal","scale":{"domain":["K417N","K417T","K417wt","NTC"],"range":[[1,0],[11,4.8],[19,4.8,3,4.8],[3,5]]},"legend":{"title":null,"symbolType":"M-1,0H12.6"}}}},
 {"data":{"name":"bands"},"transform":[{"filter":"datum.p==='K417N'"}],"mark":{"type":"text","align":"left","baseline":"alphabetic","fontWeight":"bold","fontSize":20,"color":"#a3262a"},"encoding":{"x":{"datum":30,"scale":{"domain":[27.3,86.7],"nice":false,"zero":false},"axis":{"values":[40,60,80],"format":"d","labelPadding":10,"title":"Temperature (°C)","titleY":56,"titleBaseline":"alphabetic"}},"y":{"datum":0.2,"scale":{"domain":[-0.05,1.05],"nice":false,"zero":false},"axis":{"values":[0,0.5,1],"format":".1f","labelPadding":4,"title":null}},"text":{"field":"label"}}}
]},
{"width":334,"height":237,"layer":[
 {"data":{"name":"bands"},"transform":[{"filter":"datum.p==='N501Y'"}],"mark":{"type":"rect","color":"#6a463b"},"encoding":{"x":{"field":"lo","type":"quantitative","scale":{"domain":[27.3,86.7],"nice":false,"zero":false},"axis":{"values":[40,60,80],"format":"d","labelPadding":10,"title":"Temperature (°C)","titleY":56,"titleBaseline":"alphabetic"}},"x2":{"field":"hi"}}},
 {"data":{"name":"bands"},"transform":[{"filter":"datum.p==='N501Y'"}],"mark":{"type":"rule","color":"black","strokeWidth":2.2,"strokeDash":[8,3.5]},"encoding":{"x":{"field":"ref","type":"quantitative","scale":{"domain":[27.3,86.7],"nice":false,"zero":false},"axis":{"values":[40,60,80],"format":"d","labelPadding":10,"title":"Temperature (°C)","titleY":56,"titleBaseline":"alphabetic"}}}},
 {"data":{"name":"curves"},"transform":[{"filter":"datum.p==='N501Y'"}],"mark":{"type":"line","color":"black","strokeWidth":3,"interpolate":"monotone","strokeCap":"butt"},"encoding":{"x":{"field":"t","type":"quantitative","scale":{"domain":[27.3,86.7],"nice":false,"zero":false},"axis":{"values":[40,60,80],"format":"d","labelPadding":10,"title":"Temperature (°C)","titleY":56,"titleBaseline":"alphabetic"}},"y":{"field":"v","type":"quantitative","scale":{"domain":[-0.05,1.05],"nice":false,"zero":false},"axis":null},"strokeDash":{"field":"s","type":"nominal","scale":{"domain":["N501Y","N501wt","NTC"],"range":[[1,0],[11,4.8],[3,5]]},"legend":{"title":null,"symbolType":"M-1,0H12.6"}}}},
 {"data":{"name":"bands"},"transform":[{"filter":"datum.p==='N501Y'"}],"mark":{"type":"text","align":"left","baseline":"alphabetic","fontWeight":"bold","fontSize":20,"color":"#6a463b"},"encoding":{"x":{"datum":30,"scale":{"domain":[27.3,86.7],"nice":false,"zero":false},"axis":{"values":[40,60,80],"format":"d","labelPadding":10,"title":"Temperature (°C)","titleY":56,"titleBaseline":"alphabetic"}},"y":{"datum":0.2,"scale":{"domain":[-0.05,1.05],"nice":false,"zero":false},"axis":null},"text":{"field":"label"}}}
]}
],
"config":{
 "font":"DejaVu Sans",
 "background":"white",
 "view":{"stroke":"black","strokeWidth":1.3},
 "axis":{"grid":false,"domain":false,"tickColor":"black","tickWidth":1.3,"tickSize":6,"labelColor":"black","titleColor":"black","labelFont":"DejaVu Sans","titleFont":"DejaVu Sans","labelFontSize":20,"titleFontSize":20,"titleFontWeight":"normal"},
 "legend":{"orient":"top-right","offset":9,"padding":5.5,"fillColor":"rgba(255,255,255,0.8)","strokeColor":"#cccccc","cornerRadius":4,"symbolSize":100,"symbolStrokeWidth":3,"symbolStrokeColor":"black","labelFont":"DejaVu Sans","labelFontSize":16.7,"labelColor":"black","labelOffset":65,"rowPadding":6.5,"labelLimit":300}
}
}
